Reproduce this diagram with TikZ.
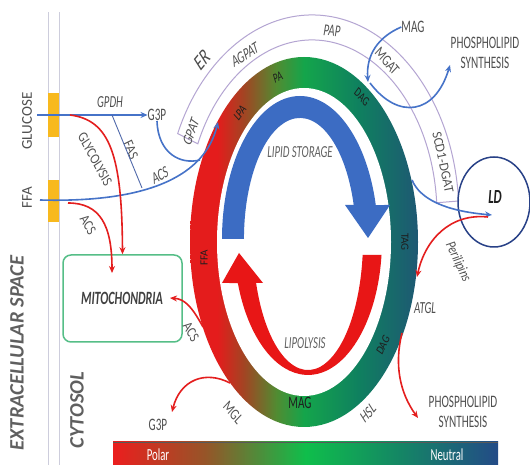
\documentclass[tikz,border=0pt]{standalone}
\usepackage{fontspec}
\setmainfont{Carlito}[FakeStretch=0.8]
\usetikzlibrary{arrows.meta}
\definecolor{arrblue}{RGB}{70,115,200}
\definecolor{fasblue}{RGB}{80,105,170}
\definecolor{arrred}{RGB}{228,30,30}
\definecolor{txtgray}{RGB}{80,80,80}
\definecolor{spgray}{RGB}{95,95,95}
\definecolor{ringtxt}{RGB}{30,30,30}
\definecolor{erpurple}{RGB}{180,165,210}
\definecolor{mitgreen}{RGB}{85,190,135}
\definecolor{ldblue}{RGB}{40,65,135}
\definecolor{memgray}{RGB}{205,205,220}
\definecolor{chanyel}{RGB}{248,185,30}
\definecolor{storeblue}{RGB}{60,108,195}
\definecolor{lipred}{RGB}{232,22,22}
\definecolor{ringred}{RGB}{228,28,28}
\definecolor{ringbrown}{RGB}{160,70,35}
\definecolor{ringolive}{RGB}{80,140,50}
\definecolor{ringgreen}{RGB}{20,165,75}
\definecolor{ringgreenb}{RGB}{15,128,95}
\definecolor{ringteal}{RGB}{30,88,115}
\definecolor{barred}{RGB}{235,30,30}
\definecolor{barbrown}{RGB}{150,85,40}
\definecolor{bargreen}{RGB}{15,190,75}
\definecolor{barteal}{RGB}{20,135,100}
\definecolor{barblue}{RGB}{35,75,135}
\pgfdeclarehorizontalshading{ringshade}{100bp}{color(0bp)=(ringred); color(25bp)=(ringred); color(31bp)=(ringred); color(37bp)=(ringbrown); color(44bp)=(ringolive); color(50bp)=(ringgreen); color(62bp)=(ringgreenb); color(75bp)=(ringteal); color(100bp)=(ringteal)}
\pgfdeclarehorizontalshading{barshade}{100bp}{color(0bp)=(barred); color(25bp)=(barred); color(37bp)=(barbrown); color(50bp)=(bargreen); color(62bp)=(barteal); color(75bp)=(barblue); color(100bp)=(barblue)}
\begin{document}
\begin{tikzpicture}[x=1pt,y=1pt,
  lbl/.style={yscale=1.25, inner sep=0pt, text=txtgray, font=\fontsize{13.5}{15}\selectfont\itshape},
  plain/.style={yscale=1.25, inner sep=0pt, text=txtgray, font=\fontsize{14}{16}\selectfont},
  ringlbl/.style={yscale=1.25, inner sep=0pt, text=ringtxt, font=\fontsize{11}{12}\selectfont},
  bigsp/.style={yscale=1.25, inner sep=0pt, text=spgray, font=\fontsize{20.5}{22}\selectfont\bfseries\itshape},
  barlbl/.style={yscale=1.25, inner sep=0pt, text=white, font=\fontsize{13.5}{15}\selectfont},
  bluearr/.style={draw=arrblue, line width=1.6pt, -{Stealth[length=7pt,width=6pt]}},
  bluelin/.style={draw=arrblue, line width=1.6pt},
  faslin/.style={draw=fasblue, line width=0.9pt},
  redarr/.style={draw=arrred, line width=1.6pt, -{Stealth[length=7pt,width=6pt]}},
  erband/.style={draw=erpurple, line width=1pt, fill=white},
  mitobox/.style={draw=mitgreen, line width=1.5pt, rounded corners=8pt, minimum width=119pt, minimum height=87pt, inner sep=0pt},
]
\useasboundingbox (0,0) rectangle (530,465);
\fill[white] (0,0) rectangle (530,465);

% membrane
\draw[memgray, line width=0.8pt] (48,0) -- (48,453);
\draw[memgray, line width=0.8pt] (59,0) -- (59,453);
\fill[chanyel] (48,328) rectangle (59,372);
\fill[chanyel] (48,243) rectangle (59,285);

% ER band
\path[erband] (458.6,264) arc[start angle=4, end angle=156, x radius=147, y radius=200]
  -- (197.8,321.2) arc[start angle=156, end angle=4, x radius=125, y radius=175] -- cycle;

% ring
\shade[shading=ringshade] (304,223) ellipse [x radius=114, y radius=185];
\fill[white] (304,223) ellipse [x radius=87, y radius=154];

% lipid storage arrow (blue)
\fill[storeblue] (244,226) -- (222,226) arc[start angle=180, end angle=13.75, x radius=78, y radius=143]
  -- (390,260) -- (368,227) -- (345,260) -- (353.7,260)
  arc[start angle=16.3, end angle=180, x radius=56, y radius=121] -- cycle;

% lipolysis arrow (red)
\fill[lipred] (362.6,210) -- (381.5,210) arc[start angle=-6.4, end angle=-161.4, x radius=74, y radius=135]
  -- (222,182) -- (239,212) -- (263,182) -- (256.1,182)
  arc[start angle=-160.7, end angle=-6.6, x radius=55, y radius=130] -- cycle;

% gradient bar
\shade[shading=barshade] (113,0) rectangle (498,23);
\draw[gray!70!black, line width=0.6pt] (113,23) -- (498,23);

% mitochondria box
\node[mitobox] (mito) at (122.5,166.5) {};
\node[yscale=1.25, inner sep=0pt, text=ringtxt!85, font=\fontsize{15}{16}\selectfont\bfseries\itshape] (mitolbl) at (122,167) {MITOCHONDRIA};

% LD
\draw[ldblue, line width=1.5pt] (494,263) ellipse [x radius=36, y radius=45];
\node[yscale=1.25, inner sep=0pt, text=ringtxt, font=\fontsize{16}{17}\selectfont\bfseries\itshape] (ld) at (495,268) {LD};

% side labels
\node[plain, rotate=90, font=\fontsize{15}{16}\selectfont] (glucose) at (27,344) {GLUCOSE};
\node[plain, rotate=90, font=\fontsize{15}{16}\selectfont] (ffaout) at (27,267) {FFA};
\node[bigsp, rotate=90] (extra) at (17,112) {EXTRACELLULAR SPACE};
\node[bigsp, rotate=90] (cyto) at (77,55) {CYTOSOL};

% labels
\node[lbl] (gpdh) at (110,363) {GPDH};
\node[plain] (g3p) at (157,350) {G3P};
\node[lbl, rotate=-63] (fas) at (131,315) {FAS};
\node[lbl, rotate=25] (acsa) at (160,290) {ACS};
\node[lbl, rotate=-56] (glyc) at (95,306) {GLYCOLYSIS};
\node[lbl, rotate=-54] (acsb) at (88,240) {ACS};
\node[lbl, rotate=-54] (acsc) at (191,133) {ACS};
\node[lbl, rotate=66] (gpat) at (191,333) {GPAT};
\node[lbl, rotate=44, text=ringtxt!80, font=\fontsize{18}{20}\selectfont\itshape] (er) at (202,405) {ER};
\node[lbl, rotate=27] (agpat) at (245,410) {AGPAT};
\node[lbl, rotate=-6] (pap) at (332,434) {PAP};
\node[lbl, rotate=-44] (mgat) at (387,404) {MGAT};
\node[lbl, rotate=-75] (scd) at (443,303) {SCD1-DGAT};
\node[inner sep=0pt, text=txtgray, font=\fontsize{14.5}{16}\selectfont\itshape, rotate=-65] (peri) at (458,203) {Perilipins};
\node[lbl] (atgl) at (425,157) {ATGL};
\node[lbl, rotate=44] (hsl) at (368,52) {HSL};
\node[lbl, rotate=-44] (mgl) at (233,52) {MGL};
\node[plain] (g3pb) at (158,40) {G3P};
\node[plain] (magt) at (413,438) {MAG};
\node[plain, align=center] (psa) at (485,412) {PHOSPHOLIPID\\SYNTHESIS};
\node[plain, align=center] (psb) at (463,53) {PHOSPHOLIPID\\SYNTHESIS};
\node[lbl, text=txtgray!90] (ls) at (300,313) {LIPID STORAGE};
\node[lbl, text=txtgray!90] (lip) at (305,122) {LIPOLYSIS};

% ring labels
\node[ringlbl, rotate=49] (lpa) at (240,352) {LPA};
\node[ringlbl, rotate=20] (pa) at (278,388) {PA};
\node[ringlbl, rotate=-42] (daga) at (362,368) {DAG};
\node[ringlbl, rotate=-90] (tag) at (405,223) {TAG};
\node[ringlbl, rotate=60] (dagb) at (383,120) {DAG};
\node[ringlbl, rotate=90] (ffar) at (204,207) {FFA};
\node[ringlbl, font=\fontsize{14}{15}\selectfont] (mag) at (300,62) {MAG};

% bar labels
\node[barlbl] (polar) at (158,10) {Polar};
\node[barlbl] (neutral) at (447,10) {Neutral};

% connector coordinates
\coordinate (gluIn) at (37,350);
\coordinate (ffaIn) at (40,265);
\coordinate (lpaTip) at (218,343);
\coordinate (fasTop) at (112,350);
\coordinate (fasBot) at (142,277);
\coordinate (g3pJoin) at (200,305);
\coordinate (dagTip) at (368,383);
\coordinate (dagOut) at (370,382);
\coordinate (psTip) at (450,400);
\coordinate (ringR) at (412,285);
\coordinate (ldIn) at (492,250);
\coordinate (glyStart) at (70,350);
\coordinate (ffaRed) at (68,262);
\coordinate (mitoIn) at (112,192);
\coordinate (ringL) at (203,138);
\coordinate (mitoR) at (170,167);
\coordinate (ringBL) at (230,82);
\coordinate (g3pTip) at (172,53);
\coordinate (ldOut) at (488,248);
\coordinate (tagIn) at (417,188);
\coordinate (ringBR) at (402,132);
\coordinate (psbTip) at (418,47);

% blue connectors
\draw[bluearr] (gluIn) -- (g3p.west);
\draw[faslin] (fasTop) -- (fasBot);
\draw[bluearr] (ffaIn) .. controls (150,262) and (205,290) .. (lpaTip);
\draw[bluelin] (g3p.south) .. controls (158,312) and (180,300) .. (g3pJoin);
\draw[bluearr] (magt.west) .. controls (378,428) and (366,410) .. (dagTip);
\draw[bluearr] (dagOut) .. controls (398,345) and (435,350) .. (psTip);
\draw[bluearr] (ringR) .. controls (420,266) and (445,254) .. (ldIn);

% red connectors
\draw[redarr] (glyStart) .. controls (110,345) and (122,310) .. (mito.north);
\draw[redarr] (ffaRed) .. controls (100,262) and (112,240) .. (mitoIn);
\draw[redarr] (ringL) .. controls (192,158) and (185,166) .. (mitoR);
\draw[redarr] (ringBL) .. controls (205,95) and (180,85) .. (g3pTip);
\draw[redarr] (ldOut) .. controls (450,252) and (425,225) .. (tagIn);
\draw[redarr] (ringBR) .. controls (394,100) and (400,72) .. (psbTip);
\end{tikzpicture}
\end{document}
